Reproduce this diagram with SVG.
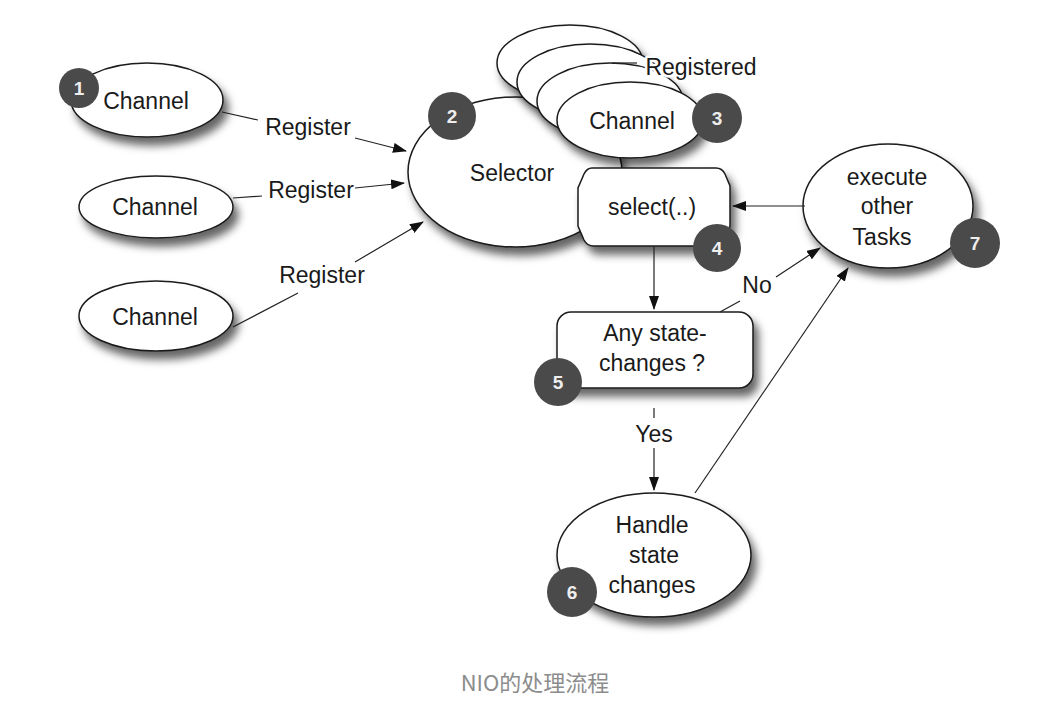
<svg xmlns="http://www.w3.org/2000/svg" width="1056" height="712" viewBox="0 0 1056 712">
<defs>
<filter id="sh" x="-20%" y="-20%" width="150%" height="160%">
<feDropShadow dx="5" dy="8" stdDeviation="4.5" flood-color="#000" flood-opacity="0.6"/>
</filter>
<marker id="ah" viewBox="0 0 14 10" refX="13" refY="5" markerWidth="14" markerHeight="10" markerUnits="userSpaceOnUse" orient="auto">
<path d="M0,0 L14,5 L0,10 Z" fill="#111"/>
</marker>
</defs>
<style>
.nd{fill:#fff;stroke:#1a1a1a;stroke-width:1.5;filter:url(#sh)}
.t{font-family:"Liberation Sans",Arial,sans-serif;font-size:23px;fill:#1a1a1a;text-anchor:middle}
.halo{stroke:#fff;stroke-width:5px;paint-order:stroke;stroke-linejoin:round}
.b circle{fill:#4a4a4a}
.b text{font-family:"Liberation Sans",Arial,sans-serif;font-size:19px;font-weight:bold;fill:#eee;text-anchor:middle}
.c{fill:none;stroke:#222;stroke-width:1.2}
.cap{font-family:"Noto Sans CJK SC","Noto Sans",sans-serif;font-size:22px;fill:#8c8c8c;text-anchor:middle}
</style>
<rect width="1056" height="712" fill="#fff"/>

<g id="channel1">
<ellipse class="nd" cx="147" cy="100" rx="76" ry="37"/>
<text class="t" x="146" y="109">Channel</text>
</g>

<g id="channel2">
<ellipse class="nd" cx="156" cy="207" rx="77" ry="31"/>
<text class="t" x="155" y="215">Channel</text>
</g>

<g id="channel3">
<ellipse class="nd" cx="156" cy="316" rx="77" ry="35"/>
<text class="t" x="155" y="325">Channel</text>
</g>

<g id="selector">
<ellipse class="nd" cx="515" cy="172" rx="107" ry="75"/>
<text class="t" x="512" y="181">Selector</text>
</g>

<g id="registered-channels">
<ellipse class="nd" cx="570" cy="63" rx="73" ry="38"/>
<ellipse class="nd" cx="590" cy="82" rx="73" ry="38"/>
<ellipse class="nd" cx="610" cy="101" rx="73" ry="38"/>
<ellipse class="nd" cx="630" cy="120" rx="73" ry="38"/>
<text class="t" x="632" y="129">Channel</text>
</g>

<g id="select">
<path class="nd" d="M592,168 L716,168 Q722,168 725,174 L730,186 L730,226 L724,240 Q721,246 714,246 L594,246 Q587,246 584,240 L578,226 L578,188 L584,174 Q587,168 592,168 Z"/>
<text class="t" x="652" y="215">select(..)</text>
</g>

<g id="execute">
<ellipse class="nd" cx="888" cy="206" rx="85" ry="62"/>
<text class="t" x="887" y="185">execute</text>
<text class="t" x="887" y="214">other</text>
<text class="t" x="882" y="245">Tasks</text>
</g>

<g id="state-check">
<rect class="nd" x="557" y="312" width="196" height="76" rx="14"/>
<text class="t" x="655" y="341">Any state-</text>
<text class="t" x="652" y="371">changes ?</text>
</g>

<g id="handle">
<ellipse class="nd" cx="654" cy="555" rx="97" ry="62"/>
<text class="t" x="652" y="533">Handle</text>
<text class="t" x="654" y="563">state</text>
<text class="t" x="652" y="593">changes</text>
</g>

<g id="connectors">
<path class="c" d="M222,112 L258,120 M355,138 L406,151" marker-end="url(#ah)"/>
<path class="c" d="M233,198 L262,196 M355,188 L404,183" marker-end="url(#ah)"/>
<path class="c" d="M233,327 L298,293 M355,262 L423,222" marker-end="url(#ah)"/>
<path class="c" d="M805,206 L733,206" marker-end="url(#ah)"/>
<path class="c" d="M654,247 L654,309" marker-end="url(#ah)"/>
<path class="c" d="M720,312 L740,301 M776,277 L820,248" marker-end="url(#ah)"/>
<path class="c" d="M654,408 L654,418 M654,448 L654,490" marker-end="url(#ah)"/>
<path class="c" d="M695,493 L848,268" marker-end="url(#ah)"/>
<path class="c" d="M612,63 L637,63"/>
<text class="t" x="308" y="135">Register</text>
<text class="t" x="311" y="198">Register</text>
<text class="t" x="322" y="283">Register</text>
<text class="t" x="757" y="293">No</text>
<text class="t" x="654" y="442">Yes</text>
<text class="t halo" x="701" y="75">Registered</text>
</g>

<g id="badges" class="b">
<circle cx="79" cy="88" r="20"/><text x="79" y="95">1</text>
<circle cx="452" cy="116" r="24"/><text x="452" y="123">2</text>
<circle cx="717" cy="118" r="25"/><text x="717" y="125">3</text>
<circle cx="717" cy="248" r="24"/><text x="717" y="255">4</text>
<circle cx="558" cy="382" r="24"/><text x="558" y="389">5</text>
<circle cx="572" cy="592" r="25"/><text x="572" y="599">6</text>
<circle cx="975" cy="243" r="25"/><text x="975" y="250">7</text>
</g>

<text class="cap" x="535" y="691">NIO的处理流程</text>
</svg>
